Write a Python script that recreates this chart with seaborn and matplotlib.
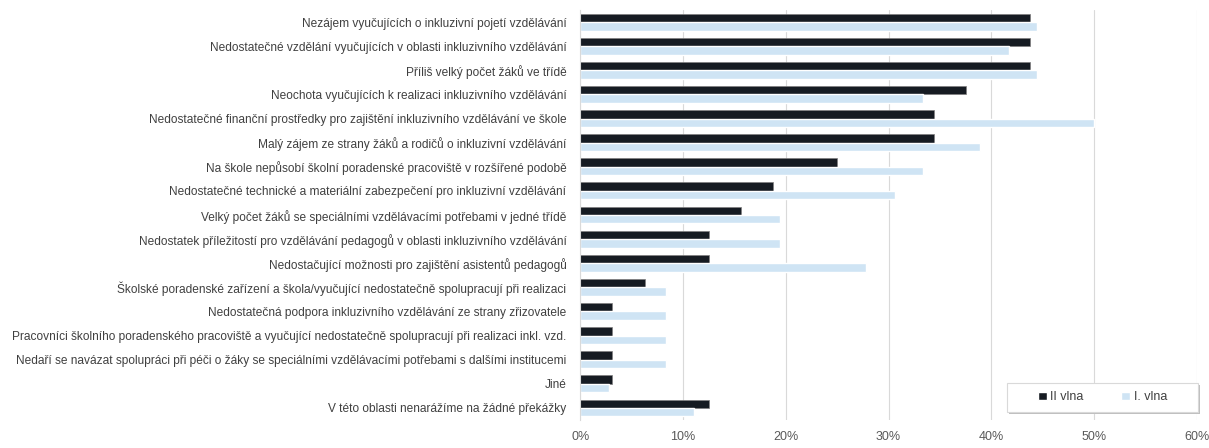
import matplotlib
matplotlib.use("Agg")
import matplotlib.pyplot as plt
import seaborn as sns
import pandas as pd
from matplotlib.ticker import FuncFormatter
from matplotlib.patches import Rectangle

categories = [
    "Nezájem vyučujících o inkluzivní pojetí vzdělávání",
    "Nedostatečné vzdělání vyučujících v oblasti inkluzivního vzdělávání",
    "Příliš velký počet žáků ve třídě",
    "Neochota vyučujících k realizaci inkluzivního vzdělávání",
    "Nedostatečné finanční prostředky pro zajištění inkluzivního vzdělávání ve škole",
    "Malý zájem ze strany žáků a rodičů o inkluzivní vzdělávání",
    "Na škole nepůsobí školní poradenské pracoviště v rozšířené podobě",
    "Nedostatečné technické a materiální zabezpečení pro inkluzivní vzdělávání",
    "Velký počet žáků se speciálními vzdělávacími potřebami v jedné třídě",
    "Nedostatek příležitostí pro vzdělávání pedagogů v oblasti inkluzivního vzdělávání",
    "Nedostačující možnosti pro zajištění asistentů pedagogů",
    "Školské poradenské zařízení a škola/vyučující nedostatečně spolupracují při realizaci",
    "Nedostatečná podpora inkluzivního vzdělávání ze strany zřizovatele",
    "Pracovníci školního poradenského pracoviště a vyučující nedostatečně spolupracují při realizaci inkl. vzd.",
    "Nedaří se navázat spolupráci při péči o žáky se speciálními vzdělávacími potřebami s dalšími institucemi",
    "Jiné",
    "V této oblasti nenarážíme na žádné překážky",
]
wave2 = [43.75, 43.75, 43.75, 37.5, 34.4, 34.4, 25.0, 18.75, 15.6, 12.5, 12.5,
         6.25, 3.1, 3.1, 3.1, 3.1, 12.5]
wave1 = [44.4, 41.7, 44.4, 33.3, 50.0, 38.9, 33.3, 30.6, 19.4, 19.4, 27.8,
         8.3, 8.3, 8.3, 8.3, 2.8, 11.1]
series_names = ["II vlna", "I. vlna"]
x_ticks = [0, 10, 20, 30, 40, 50, 60]

df = pd.DataFrame({
    "kategorie": categories * 2,
    "hodnota": wave2 + wave1,
    "vlna": [series_names[0]] * len(categories) + [series_names[1]] * len(categories),
})

sns.set_theme(style="white")
plt.rcParams["font.family"] = ["Liberation Sans", "DejaVu Sans"]

fig = plt.figure(figsize=(12.09, 4.48), dpi=100)
ax = fig.add_axes([0.48, 0.0625, 0.51, 0.915])

palette = {"II vlna": "#161b22", "I. vlna": "#cfe4f4"}
sns.barplot(data=df, y="kategorie", x="hodnota", hue="vlna", order=categories,
            hue_order=series_names, palette=palette, orient="h", width=0.7,
            ax=ax, saturation=1, legend=True)

for p in ax.containers[0]:
    p.set_edgecolor("#7f7f7f")
    p.set_linewidth(0.5)

ax.set_xlim(0, 60)
ax.set_ylim(len(categories) - 0.5, -0.5)
ax.set_xticks(x_ticks)
ax.xaxis.set_major_formatter(FuncFormatter(lambda v, _: f"{int(v)}%"))
ax.set_xlabel("")
ax.set_ylabel("")
ax.grid(axis="x", color="#d9d9d9", linewidth=0.8)
ax.set_axisbelow(True)
for s in ["top", "right", "bottom"]:
    ax.spines[s].set_visible(False)
ax.spines["left"].set_color("#d9d9d9")
ax.spines["left"].set_linewidth(0.8)
ax.tick_params(axis="y", length=0, pad=10, labelsize=8.55, labelcolor="#404040")
ax.tick_params(axis="x", length=0, pad=8, labelsize=9, labelcolor="#595959")

# legend box with shadow (Excel style)
bx0, by0, bw, bh = 0.692, 0.0195, 0.31, 0.071
shadow = Rectangle((bx0 + 0.003, by0 - 0.006), bw, bh, transform=ax.transAxes,
                   facecolor="#bfbfbf", edgecolor="none", clip_on=False, zorder=5)
box = Rectangle((bx0, by0), bw, bh, transform=ax.transAxes,
                facecolor="white", edgecolor="#d9d9d9", linewidth=0.8,
                clip_on=False, zorder=6)
ax.add_patch(shadow)
ax.add_patch(box)

leg = ax.legend(loc="center", bbox_to_anchor=(bx0 + bw / 2, by0 + bh / 2), ncol=2,
                frameon=False, fontsize=9,
                handlelength=0.7, handleheight=0.7, columnspacing=3.0,
                handletextpad=0.3, borderpad=0, borderaxespad=0)
leg.set_zorder(7)
for t in leg.get_texts():
    t.set_color("#404040")
leg.set_title(None)

fig.savefig("out.png", dpi=100, facecolor="white")
